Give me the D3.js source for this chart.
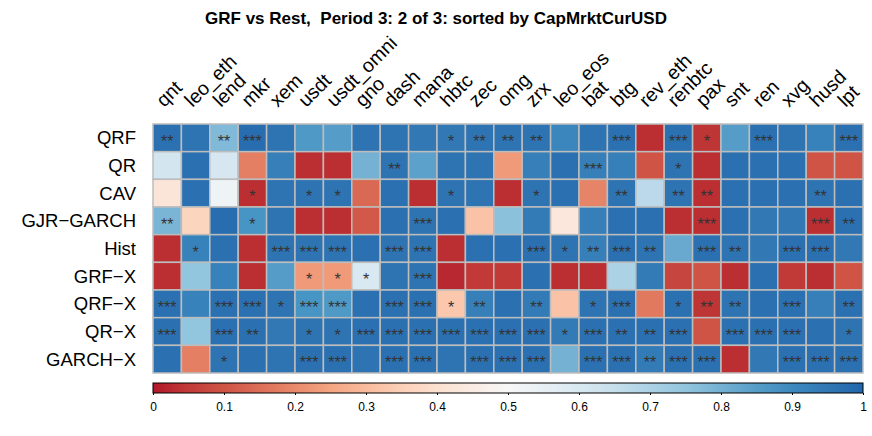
<!DOCTYPE html>
<html>
<head>
<meta charset="utf-8">
<script src="https://cdn.jsdelivr.net/npm/d3@7"></script>
<style>
  body { margin: 0; background: #fff; }
  text { font-family: "Liberation Sans", Arial, sans-serif; }
</style>
</head>
<body>
<script>
const WIDTH = 872;
const HEIGHT = 436;

const models = ['QRF', 'QR', 'CAV', 'GJR\u2212GARCH', 'Hist', 'GRF\u2212X', 'QRF\u2212X', 'QR\u2212X', 'GARCH\u2212X'];
const coins = ['qnt', 'leo_eth', 'lend', 'mkr', 'xem', 'usdt', 'usdt_omni', 'gno', 'dash', 'mana',
  'hbtc', 'zec', 'omg', 'zrx', 'leo_eos', 'bat', 'btg', 'rev_eth', 'renbtc', 'pax',
  'snt', 'ren', 'xvg', 'husd', 'lpt'];

// p-values per model (rows), one per coin
const pQRF    = [0.97,0.96,0.78,0.98,0.96,0.86,0.85,0.96,0.96,0.95,0.95,0.96,0.96,0.96,0.91,0.96,0.97,0.03,0.97,0.04,0.85,0.97,0.96,0.92,0.97];
const pQR     = [0.62,0.97,0.61,0.18,0.93,0.03,0.03,0.80,0.96,0.84,0.96,0.96,0.23,0.93,0.97,0.93,0.93,0.10,0.96,0.03,0.97,0.97,0.97,0.10,0.10];
const pCAV    = [0.42,0.97,0.53,0.03,0.96,0.96,0.96,0.14,0.97,0.03,0.96,0.96,0.03,0.96,0.97,0.19,0.96,0.67,0.96,0.03,0.97,0.97,0.97,0.96,0.97];
const pGJR    = [0.79,0.36,0.98,0.87,0.96,0.03,0.03,0.11,0.97,0.96,0.97,0.32,0.76,0.94,0.43,0.93,0.97,0.97,0.03,0.03,0.97,0.95,0.95,0.03,0.97];
const pHist   = [0.03,0.92,0.97,0.03,0.96,0.96,0.96,0.97,0.96,0.96,0.03,0.97,0.97,0.97,0.96,0.93,0.97,0.96,0.82,0.97,0.96,0.95,0.97,0.97,0.95];
const pGRFX   = [0.03,0.75,0.92,0.03,0.85,0.23,0.23,0.60,0.96,0.96,0.02,0.05,0.05,0.97,0.03,0.03,0.70,0.94,0.07,0.10,0.03,0.97,0.05,0.03,0.10];
const pQRFX   = [0.97,0.92,0.97,0.97,0.96,0.87,0.86,0.97,0.97,0.97,0.33,0.93,0.97,0.94,0.32,0.96,0.97,0.17,0.97,0.04,0.96,0.97,0.97,0.93,0.97];
const pQRX    = [0.97,0.75,0.97,0.97,0.95,0.96,0.96,0.97,0.97,0.97,0.97,0.97,0.97,0.97,0.94,0.97,0.97,0.97,0.97,0.10,0.97,0.97,0.97,0.97,0.96];
const pGARCHX = [0.97,0.18,0.96,0.97,0.96,0.97,0.97,0.96,0.97,0.97,0.96,0.97,0.97,0.97,0.80,0.97,0.97,0.94,0.97,0.97,0.03,0.95,0.97,0.97,0.97];

// significance stars
const sQRF    = ['**','','**','***','','','','','','','*','**','**','**','','','***','','***','*','','***','','','***'];
const sQR     = ['','','','','','','','','**','','','','','','','***','','','*','','','','','',''];
const sCAV    = ['','','','*','','*','*','','','','*','','','*','','','**','','**','**','','','','**',''];
const sGJR    = ['**','','','*','','','','','','***','','','','','','','','','','***','','','','***','**'];
const sHist   = ['','*','','','***','***','***','','***','***','','','','***','*','**','***','**','','***','**','','***','***',''];
const sGRFX   = ['','','','','','*','*','*','','***','','','','','','','','','','','','','','',''];
const sQRFX   = ['***','','***','***','*','***','***','','***','***','*','**','','**','','*','***','','*','**','**','','***','','**'];
const sQRX    = ['***','','***','**','','*','*','***','***','***','***','***','***','***','*','***','**','**','***','','***','***','***','','*'];
const sGARCHX = ['','','*','','','***','***','','***','***','','***','***','***','','***','***','**','***','***','','','***','***','***'];

const pRows = [pQRF, pQR, pCAV, pGJR, pHist, pGRFX, pQRFX, pQRX, pGARCHX];
const sRows = [sQRF, sQR, sCAV, sGJR, sHist, sGRFX, sQRFX, sQRX, sGARCHX];

const colorTicks = [0, 0.1, 0.2, 0.3, 0.4, 0.5, 0.6, 0.7, 0.8, 0.9, 1];

const cells = [];
pRows.forEach((row, i) => {
  row.forEach((v, j) => {
    cells.push({ model: models[i], coin: coins[j], value: v, stars: sRows[i][j] });
  });
});

const rdbu = ['#b2182b', '#d6604d', '#f4a582', '#fddbc7', '#f7f7f7', '#d1e5f0', '#92c5de', '#4393c3', '#2166ac'];
const color = d3.scaleLinear()
  .domain(d3.range(rdbu.length).map(i => i / (rdbu.length - 1)))
  .range(rdbu)
  .interpolate(d3.interpolateLab);

const grid = { left: 153, right: 863, top: 124, bottom: 373 };

const svg = d3.select('body').append('svg')
  .attr('width', WIDTH)
  .attr('height', HEIGHT);

svg.append('text')
  .attr('x', WIDTH / 2)
  .attr('y', 24)
  .attr('text-anchor', 'middle')
  .attr('font-size', 17)
  .attr('font-weight', 'bold')
  .style('white-space', 'pre')
  .text('GRF vs Rest,  Period 3: 2 of 3: sorted by CapMrktCurUSD');

const x = d3.scaleBand().domain(coins).range([grid.left, grid.right]);
const y = d3.scaleBand().domain(models).range([grid.top, grid.bottom]);

// cells
svg.append('g').selectAll('rect')
  .data(cells)
  .join('rect')
  .attr('x', d => x(d.coin))
  .attr('y', d => y(d.model))
  .attr('width', x.bandwidth())
  .attr('height', y.bandwidth())
  .attr('fill', d => color(d.value))
  .attr('stroke', '#bdbdbd')
  .attr('stroke-width', 1.5);

// stars
svg.append('g').selectAll('text')
  .data(cells.filter(d => d.stars))
  .join('text')
  .attr('x', d => x(d.coin) + x.bandwidth() / 2)
  .attr('y', d => y(d.model) + y.bandwidth() / 2 + 9)
  .attr('text-anchor', 'middle')
  .attr('font-size', 16)
  .attr('fill', '#333')
  .text(d => d.stars);

// row labels
svg.append('g').selectAll('text')
  .data(models)
  .join('text')
  .attr('x', 136)
  .attr('y', d => y(d) + y.bandwidth() / 2)
  .attr('dy', '0.35em')
  .attr('text-anchor', 'end')
  .attr('font-size', 18.5)
  .text(d => d);

// column labels, rotated 45 degrees
svg.append('g').selectAll('text')
  .data(coins)
  .join('text')
  .attr('transform', d => `translate(${x(d) + x.bandwidth() / 2 - 3},108) rotate(-45)`)
  .attr('font-size', 19.5)
  .text(d => d);

// colour bar
const bar = { top: 383, height: 10 };
const cb = d3.scaleLinear().domain([0, 1]).range([grid.left, grid.right]);

const grad = svg.append('defs').append('linearGradient')
  .attr('id', 'cbar')
  .attr('x1', '0%').attr('x2', '100%');
d3.range(0, 1.0001, 0.05).forEach(t => {
  grad.append('stop')
    .attr('offset', (t * 100) + '%')
    .attr('stop-color', color(t));
});

svg.append('rect')
  .attr('x', cb(0))
  .attr('y', bar.top)
  .attr('width', cb(1) - cb(0))
  .attr('height', bar.height)
  .attr('fill', 'url(#cbar)')
  .attr('stroke', '#000')
  .attr('stroke-width', 1);

const axis = svg.append('g')
  .attr('transform', `translate(0,${bar.top + bar.height})`)
  .call(d3.axisBottom(cb).tickValues(colorTicks).tickSize(2).tickFormat(d3.format('')));
axis.select('.domain').remove();
axis.selectAll('text')
  .attr('font-size', 12)
  .attr('font-family', '"Liberation Sans", Arial, sans-serif')
  .attr('dy', '1.1em')
  .attr('fill', '#000');
</script>
</body>
</html>
